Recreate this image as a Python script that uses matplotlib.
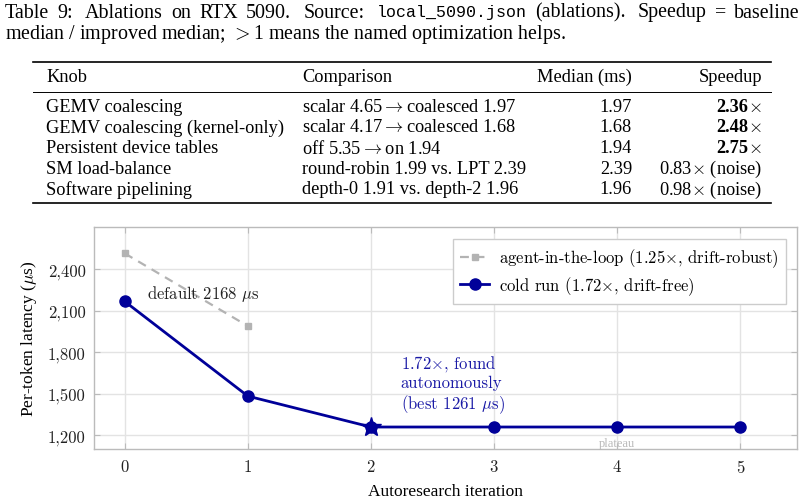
import matplotlib
matplotlib.use("Agg")
import matplotlib.pyplot as plt
from matplotlib.lines import Line2D
from matplotlib.ticker import FuncFormatter

plt.rcParams['mathtext.fontset'] = 'cm'
plt.rcParams['axes.formatter.use_mathtext'] = True

# ---- table data ----
knobs = ["GEMV coalescing", "GEMV coalescing (kernel-only)", "Persistent device tables",
         "SM load-balance", "Software pipelining"]
comparisons = [r"scalar 4.65$\rightarrow$coalesced 1.97", r"scalar 4.17$\rightarrow$coalesced 1.68",
               r"off 5.35$\rightarrow$on 1.94", "round-robin 1.99 vs. LPT 2.39",
               "depth-0 1.91 vs. depth-2 1.96"]
medians = ["1.97", "1.68", "1.94", "2.39", "1.96"]
speedups = ["2.36", "2.48", "2.75", "0.83", "0.98"]
speedup_helps = [True, True, True, False, False]

# ---- chart data ----
iterations = [0, 1, 2, 3, 4, 5]
cold_run = [2168, 1484, 1261, 1261, 1261, 1261]
best_iter = 2
agent_iter = [0, 1]
agent_loop = [2515, 1990]
yticks = [1200, 1500, 1800, 2100, 2400]

W, H = 805, 502
fig = plt.figure(figsize=(W / 100, H / 100), dpi=100)
renderer = fig.canvas.get_renderer()

SERIF = ['Liberation Serif', 'DejaVu Serif']
MONO = ['Liberation Mono', 'DejaVu Sans Mono']
CAP_FS = 14.4
MONO_FS = 12
TAB_FS = 13.2


def fx(x):
    return x / W


def fy(y):
    return 1 - y / H


def justify_line(x0, x1, y, words):
    # place words so the line fills x0..x1, wider gaps after sentence ends
    arts = []
    total = 0
    for s, fam, size in words:
        t = fig.text(0, fy(y), s, family=fam, size=size, va='center', ha='left')
        w = t.get_window_extent(renderer).width
        arts.append((t, w))
        total += w
    weights = [1.5 if s.endswith(('.', ':')) else 1.0 for s, _, _ in words[:-1]]
    unit = (x1 - x0 - total) / sum(weights)
    x = x0
    for i, (t, w) in enumerate(arts):
        t.set_x(fx(x))
        if i < len(weights):
            x += w + unit * weights[i]


# caption
line1 = [("Table", SERIF, CAP_FS), ("9:", SERIF, CAP_FS), ("Ablations", SERIF, CAP_FS),
         ("on", SERIF, CAP_FS), ("RTX", SERIF, CAP_FS), ("5090.", SERIF, CAP_FS),
         ("Source:", SERIF, CAP_FS), ("local_5090.json", MONO, MONO_FS),
         ("(ablations).", SERIF, CAP_FS), ("Speedup", SERIF, CAP_FS), ("=", SERIF, CAP_FS),
         ("baseline", SERIF, CAP_FS)]
justify_line(5, 800, 13, line1)
fig.text(fx(5), fy(35), r"median / improved median; $>$1 means the named optimization helps.",
         family=SERIF, size=CAP_FS, va='center', ha='left')

# table rules
fig.add_artist(Line2D([fx(33), fx(771)], [fy(62.5)] * 2, color='black', lw=1.2))
fig.add_artist(Line2D([fx(33), fx(771)], [fy(92.7)] * 2, color='black', lw=0.7))
fig.add_artist(Line2D([fx(33), fx(771)], [fy(204)] * 2, color='black', lw=1.2))

col_knob, col_cmp, col_med, col_spd = 46, 302, 632, 762
fig.text(fx(col_knob), fy(77), "Knob", family=SERIF, size=TAB_FS, va='center')
fig.text(fx(col_cmp), fy(77), "Comparison", family=SERIF, size=TAB_FS, va='center')
fig.text(fx(col_med), fy(77), "Median (ms)", family=SERIF, size=TAB_FS, va='center', ha='right')
fig.text(fx(col_spd), fy(77), "Speedup", family=SERIF, size=TAB_FS, va='center', ha='right')

row_y = [107, 128, 149, 169.5, 190]
for i, y in enumerate(row_y):
    fig.text(fx(col_knob), fy(y), knobs[i], family=SERIF, size=TAB_FS, va='center')
    fig.text(fx(col_cmp), fy(y), comparisons[i], family=SERIF, size=TAB_FS, va='center')
    fig.text(fx(col_med), fy(y), medians[i], family=SERIF, size=TAB_FS, va='center', ha='right')
    if speedup_helps[i]:
        t = fig.text(fx(col_spd), fy(y), r"$\times$", family=SERIF, size=TAB_FS,
                     va='center', ha='right')
        wx = t.get_window_extent(renderer).width
        fig.text(fx(col_spd - wx), fy(y), speedups[i], family=SERIF, size=TAB_FS,
                 weight='bold', va='center', ha='right')
    else:
        fig.text(fx(col_spd), fy(y), speedups[i] + r"$\times$ (noise)", family=SERIF,
                 size=TAB_FS, va='center', ha='right')

# ---- chart ----
ax = fig.add_axes([fx(94), fy(450.3), (797 - 94) / W, (450.3 - 228) / H])
blue = '#000099'
gray = '#b3b3b3'

ax.plot(agent_iter, agent_loop, color=gray, ls=(0, (4, 3)), lw=1.6, marker='s', ms=5,
        label=r'agent-in-the-loop (1.25$\times$, drift-robust)', zorder=3)
ax.plot(iterations, cold_run, color=blue, lw=2.0, marker='o', ms=8,
        label=r'cold run (1.72$\times$, drift-free)', zorder=4)
ax.plot([iterations[best_iter]], [cold_run[best_iter]], color=blue, marker='*', ms=15,
        ls='none', zorder=5)

ax.set_xlim(-0.25, 5.46)
ax.set_ylim(1100, 2706)
ax.set_xticks(iterations)
ax.set_yticks(yticks)
ax.yaxis.set_major_formatter(FuncFormatter(lambda v, p: f"{v:,.0f}"))
for lab in ax.get_xticklabels() + ax.get_yticklabels():
    lab.set_family('cmr10')
    lab.set_fontsize(12)
ax.grid(True, color='#e3e3e3', lw=1.0, zorder=0)
ax.set_axisbelow(True)
for sp in ax.spines.values():
    sp.set_color('#bbbbbb')
    sp.set_linewidth(1.0)
ax.tick_params(direction='in', length=4, color='#bbbbbb', top=True, right=True,
               pad=6, labelcolor='#222222')

ax.set_xlabel("Autoresearch iteration", family=SERIF, fontsize=12.5, labelpad=6)
ax.set_ylabel(r"Per-token latency ($\mu$s)", family=SERIF, fontsize=12.5, labelpad=6)

ax.text(0.18, 2229, r"default 2168 $\mu$s", family='cmr10', fontsize=12, va='center',
        ha='left', color='#222222')
ax.text(2.24, 1345, "1.72$\\times$, found\nautonomously\n(best 1261 $\\mu$s)",
        family='cmr10', fontsize=12, va='bottom', ha='left', color='#1a1aa6',
        linespacing=1.15)
ax.text(4, 1144, "plateau", family=SERIF, fontsize=9, color='#b8b8b8',
        ha='center', va='center')

leg = ax.legend(loc='upper right', bbox_to_anchor=(0.984, 0.946), borderaxespad=0,
                fancybox=False, framealpha=1, edgecolor='#cccccc',
                prop={'family': 'cmr10', 'size': 12}, handlelength=1.7,
                handletextpad=0.6, borderpad=0.45, labelspacing=0.3)
leg.get_frame().set_linewidth(1.0)

fig.savefig("out.png", dpi=100)
